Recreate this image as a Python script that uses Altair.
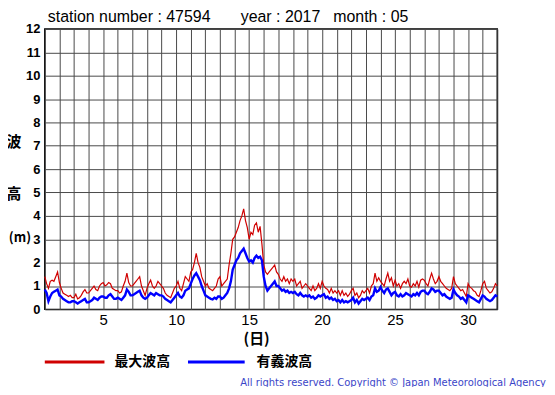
import altair as alt
import pandas as pd

# ---- data: 3-hourly readings, 8 per day (day 1 .. day 31) plus day 32 00h ----
POINTS_PER_DAY = 8

MAX_WAVE = [
    1.4, 1.1, 0.9, 1.2, 1.25, 1.2, 1.4, 1.6,      # 1
    1.15, 0.9, 0.7, 0.65, 0.6, 0.55, 0.6, 0.5,    # 2
    0.5, 0.65, 0.45, 0.5, 0.6, 0.75, 0.85, 0.7,   # 3
    0.7, 0.8, 0.9, 1.0, 0.85, 0.8, 1.0, 1.1,      # 4
    1.15, 1.0, 1.05, 1.15, 1.1, 0.9, 0.85, 0.8,   # 5
    0.8, 0.7, 0.75, 1.0, 1.2, 1.55, 1.15, 1.0,    # 6
    1.0, 1.1, 1.2, 1.3, 1.4, 1.0, 0.8, 0.6,       # 7
    0.9, 1.1, 1.25, 1.0, 0.9, 1.0, 1.2, 1.1,      # 8
    1.0, 0.9, 0.7, 0.6, 0.55, 0.5, 0.7, 0.9,      # 9
    1.0, 1.2, 0.9, 0.8, 1.1, 1.4, 1.3, 1.2,       # 10
    1.6, 1.7, 2.0, 2.4, 2.0, 1.8, 1.4, 1.2,       # 11
    1.0, 1.1, 0.9, 0.85, 0.8, 0.9, 1.0, 1.3,      # 12
    1.4, 1.0, 1.1, 1.2, 1.3, 1.9, 2.4, 3.0,       # 13
    3.1, 3.3, 3.5, 3.8, 4.0, 4.3, 3.8, 3.5,       # 14
    3.0, 3.3, 3.2, 3.6, 3.7, 3.3, 3.55, 2.8,      # 15
    1.9, 1.6, 1.5, 1.6, 1.7, 1.8, 1.9, 1.6,       # 16
    1.5, 1.3, 1.2, 1.4, 1.2, 1.3, 1.1, 1.3,       # 17
    1.2, 1.3, 1.0, 1.1, 1.2, 0.9, 1.0, 1.1,       # 18
    1.0, 0.9, 0.8, 1.0, 0.8, 0.9, 1.1, 0.9,       # 19
    1.2, 1.0, 0.9, 0.85, 0.7, 0.9, 0.7, 0.8,      # 20
    0.7, 0.8, 0.6, 0.8, 0.6, 0.7, 0.55, 0.65,     # 21
    0.8, 0.9, 0.6, 0.7, 0.5, 0.6, 0.8, 0.7,       # 22
    0.8, 0.9, 0.7, 1.0, 1.1, 1.55, 1.2, 1.35,     # 23
    1.2, 1.1, 1.0, 1.3, 1.55, 1.2, 1.35, 1.0,     # 24
    1.25, 1.0, 1.1, 0.9, 1.1, 1.2, 1.1, 1.3,      # 25
    1.0, 0.95, 1.1, 1.0, 1.2, 0.95, 1.25, 1.3,    # 26
    1.25, 1.1, 1.0, 1.3, 1.55, 1.3, 1.1, 1.2,     # 27
    1.4, 1.2, 1.1, 1.0, 0.9, 0.85, 0.8, 0.9,      # 28
    1.4, 1.1, 1.0, 0.9, 0.8, 0.85, 0.7, 0.55,     # 29
    1.1, 0.95, 0.9, 0.8, 0.75, 0.6, 0.55, 0.8,    # 30
    1.1, 1.2, 0.9, 0.8, 0.7, 0.75, 0.9, 1.1,      # 31
    1.0,
]

SIG_WAVE = [
    0.85, 0.7, 0.35, 0.55, 0.7, 0.75, 0.8, 0.85,  # 1
    0.6, 0.55, 0.45, 0.4, 0.35, 0.3, 0.3, 0.35,   # 2
    0.35, 0.3, 0.25, 0.3, 0.35, 0.4, 0.45, 0.3,   # 3
    0.3, 0.35, 0.4, 0.5, 0.45, 0.4, 0.5, 0.55,    # 4
    0.55, 0.5, 0.5, 0.6, 0.65, 0.55, 0.45, 0.45,  # 5
    0.5, 0.45, 0.4, 0.5, 0.6, 0.85, 0.75, 0.6,    # 6
    0.6, 0.65, 0.7, 0.75, 0.8, 0.6, 0.5, 0.45,    # 7
    0.5, 0.6, 0.7, 0.65, 0.6, 0.7, 0.65, 0.6,     # 8
    0.6, 0.55, 0.45, 0.4, 0.35, 0.3, 0.4, 0.5,    # 9
    0.6, 0.7, 0.55, 0.5, 0.6, 0.8, 0.85, 0.9,     # 10
    1.1, 1.3, 1.45, 1.55, 1.4, 1.25, 1.0, 0.8,    # 11
    0.6, 0.55, 0.5, 0.45, 0.43, 0.5, 0.45, 0.55,  # 12
    0.55, 0.45, 0.5, 0.6, 0.7, 0.9, 1.2, 1.7,     # 13
    1.9, 2.1, 2.2, 2.4, 2.5, 2.6, 2.4, 2.2,       # 14
    2.05, 2.1, 2.0, 2.2, 2.3, 2.2, 2.25, 2.1,     # 15
    1.4, 1.0, 0.8, 0.9, 1.0, 1.1, 1.2, 1.0,       # 16
    1.0, 0.9, 0.8, 0.85, 0.75, 0.8, 0.7, 0.75,    # 17
    0.7, 0.75, 0.65, 0.6, 0.7, 0.6, 0.55, 0.6,    # 18
    0.55, 0.6, 0.5, 0.55, 0.45, 0.5, 0.6, 0.55,   # 19
    0.6, 0.65, 0.5, 0.55, 0.45, 0.5, 0.4, 0.45,   # 20
    0.35, 0.4, 0.3, 0.4, 0.3, 0.35, 0.3, 0.35,    # 21
    0.4, 0.5, 0.3, 0.4, 0.25, 0.35, 0.45, 0.4,    # 22
    0.45, 0.5, 0.4, 0.55, 0.6, 0.9, 0.75, 0.8,    # 23
    0.95, 0.8, 0.7, 0.85, 0.9, 0.75, 0.6, 0.7,    # 24
    0.75, 0.6, 0.55, 0.65, 0.55, 0.6, 0.7, 0.65,  # 25
    0.6, 0.55, 0.65, 0.6, 0.7, 0.6, 0.75, 0.8,    # 26
    0.8, 0.7, 0.65, 0.75, 0.9, 0.85, 0.75, 0.8,   # 27
    0.8, 0.7, 0.6, 0.65, 0.55, 0.5, 0.45, 0.5,    # 28
    0.85, 0.7, 0.6, 0.55, 0.45, 0.5, 0.4, 0.3,    # 29
    0.6, 0.55, 0.5, 0.45, 0.4, 0.35, 0.3, 0.45,   # 30
    0.6, 0.55, 0.45, 0.4, 0.35, 0.4, 0.5, 0.6,    # 31
    0.55,
]

X_TICKS = list(range(1, 33))
Y_TICKS = list(range(0, 13))
SERIES = ["最大波高", "有義波高"]
COLORS = ["#d00000", "#0000ff"]

TITLE_PARTS = ["station number : 47594", "year : 2017", "month : 05"]
COPYRIGHT = "All rights reserved. Copyright \u00a9 Japan Meteorological Agency"

# ---- build table ----
n = len(MAX_WAVE)
times = [1 + i / POINTS_PER_DAY for i in range(n)]
df = pd.DataFrame({
    "t": times + times,
    "h": MAX_WAVE + SIG_WAVE,
    "s": [SERIES[0]] * n + [SERIES[1]] * n,
    "o": list(range(n)) * 2,
})

W, H = 455, 282
LATIN = "Liberation Sans"
CJK = "Noto Sans CJK JP"

lines = alt.Chart(df).mark_line(interpolate="linear").encode(
    x=alt.X("t:Q",
            scale=alt.Scale(domain=[1, 32], nice=False, zero=False),
            axis=alt.Axis(values=X_TICKS,
                          labelExpr="datum.value % 5 == 0 ? datum.value : ''",
                          labelOverlap=False, labelFlush=False,
                          grid=True, gridColor="#4a4a4a", gridWidth=1, gridOpacity=1,
                          ticks=False, domain=False, title=None,
                          labelFont=LATIN, labelFontSize=15, labelColor="black",
                          labelPadding=3)),
    y=alt.Y("h:Q",
            scale=alt.Scale(domain=[0, 12], nice=False, zero=True),
            axis=alt.Axis(values=Y_TICKS, grid=True, gridColor="#4a4a4a", gridWidth=1,
                          gridOpacity=1, ticks=False, domain=False, title=None,
                          labelFont=LATIN, labelFontSize=13, labelFontWeight="bold",
                          labelColor="black", labelPadding=5)),
    color=alt.Color("s:N", scale=alt.Scale(domain=SERIES, range=COLORS), legend=None),
    strokeWidth=alt.StrokeWidth("s:N", scale=alt.Scale(domain=SERIES, range=[1.2, 2.4]),
                                legend=None),
    order="o:Q",
)


def label(text, x, y, size, font=LATIN, weight="normal", color="black", align="left"):
    return alt.Chart(pd.DataFrame({"txt": [text]})).mark_text(
        align=align, baseline="middle", font=font, fontSize=size,
        fontWeight=weight, color=color,
    ).encode(x=alt.value(x), y=alt.value(y), text="txt:N")


def legend_line(color, x0, x1, y):
    return alt.Chart(pd.DataFrame({"k": [0]})).mark_rule(color=color, strokeWidth=3).encode(
        x=alt.value(x0), x2=alt.value(x1), y=alt.value(y))


# plot origin is page (45, 28)
layers = [
    lines,
    label(TITLE_PARTS[0], 3, -12, 16),
    label(TITLE_PARTS[1], 197, -12, 16),
    label(TITLE_PARTS[2], 290, -12, 16),
    label("波", -31, 114, 15, font=CJK, weight="bold", align="center"),
    label("高", -31, 166, 15, font=CJK, weight="bold", align="center"),
    label("(m)", -25, 210, 13, font=CJK, weight="bold", align="center"),
    label("(日)", 213, 312, 15, font=CJK, weight="bold", align="center"),
    legend_line(COLORS[0], 0, 60, 335),
    label(SERIES[0], 70, 335, 14, font=CJK, weight="bold"),
    legend_line(COLORS[1], 144, 201, 335),
    label(SERIES[1], 213, 335, 14, font=CJK, weight="bold"),
    label(COPYRIGHT, 504, 356, 10, font="DejaVu Sans", color="#3a45c8", align="right"),
]

chart = alt.layer(*layers).properties(
    width=W, height=H,
    autosize=alt.AutoSizeParams(type="none"),
    padding={"left": 37, "top": 20, "right": 50, "bottom": 77},
    background="white",
).configure_view(stroke="black", strokeWidth=1.5)

chart.save("out.html", embed_options={"renderer": "svg", "actions": False})
